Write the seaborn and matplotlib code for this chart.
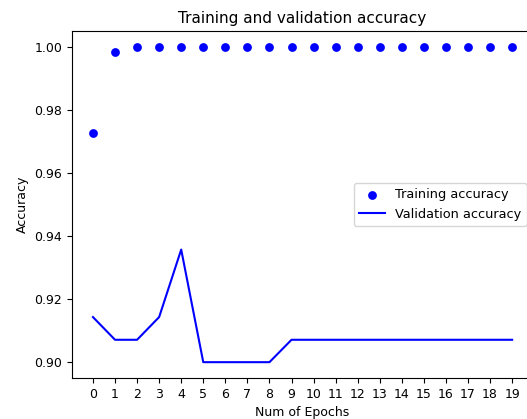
import matplotlib
matplotlib.use("Agg")
import matplotlib.pyplot as plt
import seaborn as sns

# Datos
epochs = list(range(20))
train_acc = [0.9728, 0.9982, 1.0, 1.0, 1.0, 1.0, 1.0, 1.0, 1.0, 1.0,
             1.0, 1.0, 1.0, 1.0, 1.0, 1.0, 1.0, 1.0, 1.0, 1.0]
val_acc = [0.9143, 0.9071, 0.9071, 0.9143, 0.9357, 0.9000, 0.9000, 0.9000, 0.9000, 0.9071,
           0.9071, 0.9071, 0.9071, 0.9071, 0.9071, 0.9071, 0.9071, 0.9071, 0.9071, 0.9071]

fig = plt.figure(figsize=(5.27, 4.19), dpi=100)
ax = fig.add_axes([0.1366, 0.098, 0.875, 0.828])

# Precisión de entrenamiento como puntos, validación como línea
sns.scatterplot(x=epochs, y=train_acc, color="blue", s=40, edgecolor="blue",
                linewidth=0, label="Training accuracy", ax=ax)
sns.lineplot(x=epochs, y=val_acc, color="blue", linewidth=1.5,
             label="Validation accuracy", ax=ax)

ax.set_title("Training and validation accuracy", fontsize=11)
ax.set_xlabel("Num of Epochs", fontsize=9)
ax.set_ylabel("Accuracy", fontsize=9)
ax.set_xticks(epochs)
ax.tick_params(labelsize=9)
ax.legend(loc="center right", fontsize=9.3)

fig.savefig("out.png", dpi=100)
